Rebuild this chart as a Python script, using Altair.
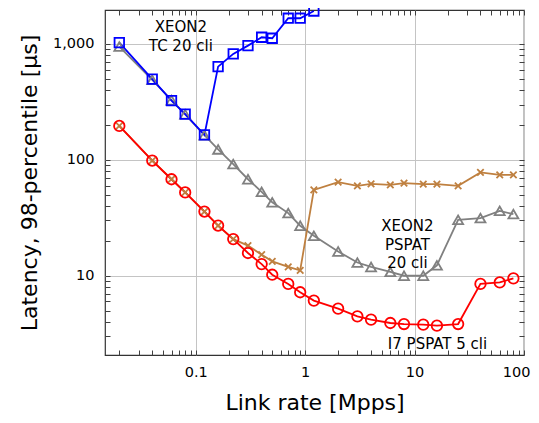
import altair as alt
import pandas as pd

# ---------------- data ----------------
series_names = ["XEON2 PSPAT 20 cli", "I7 TC 5 cli", "I7 PSPAT 5 cli", "XEON2 TC 20 cli"]
series_colors = ["#808080", "#bf8040", "#ff0000", "#0000ff"]

rate_tc = [0.02, 0.04, 0.06, 0.08, 0.12, 0.16, 0.22, 0.3, 0.4, 0.5, 0.7, 0.9, 1.2]
lat_xeon_tc = [1026, 497, 324, 248, 164, 637, 820, 967, 1142, 1120, 1667, 1667, 1924]

rate_full = [0.02, 0.04, 0.06, 0.08, 0.12, 0.16, 0.22, 0.3, 0.4, 0.5, 0.7, 0.9,
             1.2, 2, 3, 4, 6, 8, 12, 16, 25, 40, 60, 80]
lat_xeon_pspat = [950, 490, 327, 247, 163, 123, 92, 68, 53, 43, 34.7, 27,
                  22.1, 16.2, 13.0, 11.9, 10.8, 10.0, 10.0, 12.3, 30.4, 31.4, 36.3, 34.0]
lat_i7_tc = [196, 98.6, 68, 52.3, 35.8, 27.1, 20.7, 18.2, 15.2, 13.3, 11.9, 11.1,
             55.1, 64.2, 59.7, 62.1, 60.9, 62.9, 61.6, 61.6, 59.7, 77.8, 74.3, 74.3]
lat_i7_pspat = [196, 98.6, 68, 52.3, 35.8, 27.1, 20.7, 15.7, 12.6, 10.2, 8.5, 7.2,
                6.1, 5.2, 4.46, 4.18, 3.91, 3.83, 3.78, 3.71, 3.83, 8.5, 8.75, 9.5]

x_label_values = [0.1, 1, 10, 100]
y_label_values = [10, 100, 1000]
x_tick_values = [0.02, 0.03, 0.04, 0.05, 0.06, 0.07, 0.08, 0.09, 0.1,
                 0.2, 0.3, 0.4, 0.5, 0.6, 0.7, 0.8, 0.9, 1,
                 2, 3, 4, 5, 6, 7, 8, 9, 10,
                 20, 30, 40, 50, 60, 70, 80, 90, 100]
y_tick_values = [3, 4, 5, 6, 7, 8, 9, 10,
                 20, 30, 40, 50, 60, 70, 80, 90, 100,
                 200, 300, 400, 500, 600, 700, 800, 900, 1000]

note_text = ["XEON2\nTC 20 cli", "XEON2\nPSPAT\n20 cli", "I7 PSPAT 5 cli"]
note_x = [0.073, 8.6, 16.2]
note_y = [1390, 26.8, 2.6]

x_domain = [0.0148, 100]
y_domain = [2.07, 1963]

# ---------------- tables ----------------
rows = []
for r, v in zip(rate_full, lat_xeon_pspat):
    rows.append({"series": "XEON2 PSPAT 20 cli", "rate": r, "lat": v})
for r, v in zip(rate_full, lat_i7_tc):
    rows.append({"series": "I7 TC 5 cli", "rate": r, "lat": v})
for r, v in zip(rate_full, lat_i7_pspat):
    rows.append({"series": "I7 PSPAT 5 cli", "rate": r, "lat": v})
for r, v in zip(rate_tc, lat_xeon_tc):
    rows.append({"series": "XEON2 TC 20 cli", "rate": r, "lat": v})
df = pd.DataFrame(rows)
notes = pd.DataFrame({"label": note_text, "rate": note_x, "lat": note_y})

xs = alt.Scale(type="log", domain=x_domain, nice=False, zero=False)
ys = alt.Scale(type="log", domain=y_domain, nice=False, zero=False)
FONT = "DejaVu Sans"

base = alt.Chart(df)

lines = base.mark_line(strokeWidth=1.8).encode(
    x=alt.X("rate:Q", scale=xs, axis=alt.Axis(
        orient="bottom", values=x_label_values, format="~g", grid=True,
        ticks=False, domain=False, labelPadding=10, labelFlush=True,
        labelFlushOffset=6, title="Link rate [Mpps]", titlePadding=14)),
    y=alt.Y("lat:Q", scale=ys, axis=alt.Axis(
        orient="left", values=y_label_values, format=",", grid=True,
        ticks=False, domain=False, labelPadding=11, labelFlush=False,
        title="Latency, 98-percentile [µs]", titlePadding=11)),
    color=alt.Color("series:N", scale=alt.Scale(domain=series_names, range=series_colors),
                    legend=None),
    detail="series:N",
)

def pts(name, color, shape, size):
    return base.transform_filter(alt.datum.series == name).mark_point(
        shape=shape, filled=False, size=size, strokeWidth=1.8, color=color, opacity=1
    ).encode(
        x=alt.X("rate:Q", scale=xs, axis=None),
        y=alt.Y("lat:Q", scale=ys, axis=None),
    )

p_gray = pts("XEON2 PSPAT 20 cli", "#808080", "triangle-up", 100)
p_brown = pts("I7 TC 5 cli", "#bf8040", "M-1,-1L1,1M-1,1L1,-1", 42)
p_red = pts("I7 PSPAT 5 cli", "#ff0000", "circle", 110)
p_blue = pts("XEON2 TC 20 cli", "#0000ff", "square", 90)

text = alt.Chart(notes).mark_text(
    font=FONT, fontSize=15, align="center", baseline="middle",
    lineBreak="\n", lineHeight=18.5, color="black"
).encode(
    x=alt.X("rate:Q", scale=xs, axis=None),
    y=alt.Y("lat:Q", scale=ys, axis=None),
    text="label:N",
)

tick_axis = dict(labels=False, title=None, domain=False, grid=False, ticks=True,
                 tickSize=5, tickColor="#404040", tickWidth=1, offset=-5)

ticks_bl = base.mark_point(opacity=0).encode(
    x=alt.X("rate:Q", scale=xs, axis=alt.Axis(orient="bottom", values=x_tick_values, **tick_axis)),
    y=alt.Y("lat:Q", scale=ys, axis=alt.Axis(orient="left", values=y_tick_values, **tick_axis)),
)
ticks_tr = base.mark_point(opacity=0).encode(
    x=alt.X("rate:Q", scale=xs, axis=alt.Axis(orient="top", values=x_tick_values, **tick_axis)),
    y=alt.Y("lat:Q", scale=ys, axis=alt.Axis(orient="right", values=y_tick_values, **tick_axis)),
)

chart = alt.layer(
    lines, p_gray, p_brown, p_red, p_blue, text, ticks_bl, ticks_tr
).resolve_axis(
    x="independent", y="independent"
).properties(
    width=419, height=345,
    padding={"left": 97, "top": 2, "right": 7, "bottom": 65},
    autosize=alt.AutoSizeParams(type="none"),
).configure_view(
    stroke="#333333", strokeWidth=1.2
).configure_axis(
    labelFont=FONT, labelFontSize=14.5, labelColor="black",
    titleFont=FONT, titleFontSize=22, titleFontWeight="normal", titleColor="black",
    gridColor="#c4c4c4", gridWidth=1,
)

chart.save("out.html", embed_options={"renderer": "svg", "actions": False})
